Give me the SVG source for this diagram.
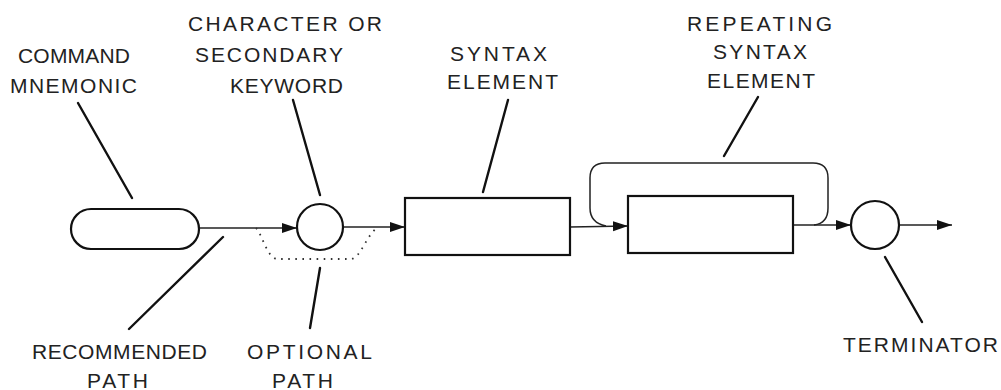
<svg xmlns="http://www.w3.org/2000/svg" width="1001" height="390" viewBox="0 0 1001 390">
<style>
.node{fill:none;stroke:#111;stroke-width:2.2}
.conn{fill:none;stroke:#222;stroke-width:1.5}
.dot{fill:none;stroke:#333;stroke-width:1.8;stroke-dasharray:1.6 5.5}
.lead{stroke:#111;stroke-width:2.4;stroke-linecap:round}
text{font-family:"Liberation Sans",Arial,sans-serif;font-size:21px;fill:#222}
</style>
<defs>
<marker id="ah" markerUnits="userSpaceOnUse" markerWidth="17" markerHeight="12" refX="15" refY="6" orient="auto">
<path d="M0,1 L15,6 L0,11 Z" fill="#111"/>
</marker>
</defs>
<rect width="1001" height="390" fill="#fff"/>
<g id="connectors">
<path class="conn" d="M199,228 L297,228" marker-end="url(#ah)"/>
<path class="conn" d="M343,227 L405,227" marker-end="url(#ah)"/>
<path class="conn" d="M570,227 L628,226" marker-end="url(#ah)"/>
<path class="conn" d="M793,225 L851,225" marker-end="url(#ah)"/>
<path class="conn" d="M899,225 L952,225" marker-end="url(#ah)"/>
<path class="dot" d="M256,228 C263,236 266,255 276,259 L352,259 C362,255 366,236 377,228"/>
<path class="conn" d="M606,226 C596,224 590,218 590,208 L590,178 Q590,163 605,163 L813,163 Q828,163 828,178 L828,208 C828,218 823,224 814,225"/>
</g>
<g id="command-mnemonic"><rect class="node" x="71" y="209" width="128" height="40" rx="20"/></g>
<g id="keyword-circle"><circle class="node" cx="320" cy="227" r="23"/></g>
<g id="syntax-element"><rect class="node" x="405" y="198" width="165" height="57"/></g>
<g id="repeating-element"><rect class="node" x="628" y="196" width="165" height="57"/></g>
<g id="terminator"><circle class="node" cx="875" cy="225" r="24"/></g>
<g id="leaders">
<line class="lead" x1="78" y1="103" x2="132" y2="198"/>
<line class="lead" x1="293" y1="100" x2="320" y2="195"/>
<line class="lead" x1="508" y1="100" x2="483" y2="192"/>
<line class="lead" x1="758" y1="97" x2="724" y2="156"/>
<line class="lead" x1="223" y1="237" x2="129" y2="329"/>
<line class="lead" x1="320" y1="268" x2="310" y2="328"/>
<line class="lead" x1="885" y1="257" x2="922" y2="322"/>
</g>
<g id="labels">
<text x="188" y="31" textLength="194" lengthAdjust="spacing">CHARACTER OR</text>
<text x="195" y="62" textLength="148" lengthAdjust="spacing">SECONDARY</text>
<text x="230" y="93" textLength="113" lengthAdjust="spacing">KEYWORD</text>
<text x="18" y="63" textLength="112" lengthAdjust="spacing">COMMAND</text>
<text x="10" y="93" textLength="127" lengthAdjust="spacing">MNEMONIC</text>
<text x="450" y="61" textLength="97" lengthAdjust="spacing">SYNTAX</text>
<text x="447" y="89" textLength="111" lengthAdjust="spacing">ELEMENT</text>
<text x="687" y="31" textLength="145" lengthAdjust="spacing">REPEATING</text>
<text x="713" y="59" textLength="94" lengthAdjust="spacing">SYNTAX</text>
<text x="707" y="88" textLength="108" lengthAdjust="spacing">ELEMENT</text>
<text x="32" y="359" textLength="175" lengthAdjust="spacing">RECOMMENDED</text>
<text x="87" y="388" textLength="61" lengthAdjust="spacing">PATH</text>
<text x="247" y="359" textLength="125" lengthAdjust="spacing">OPTIONAL</text>
<text x="272" y="388" textLength="61" lengthAdjust="spacing">PATH</text>
<text x="843" y="352" textLength="155" lengthAdjust="spacing">TERMINATOR</text>
</g>
</svg>
